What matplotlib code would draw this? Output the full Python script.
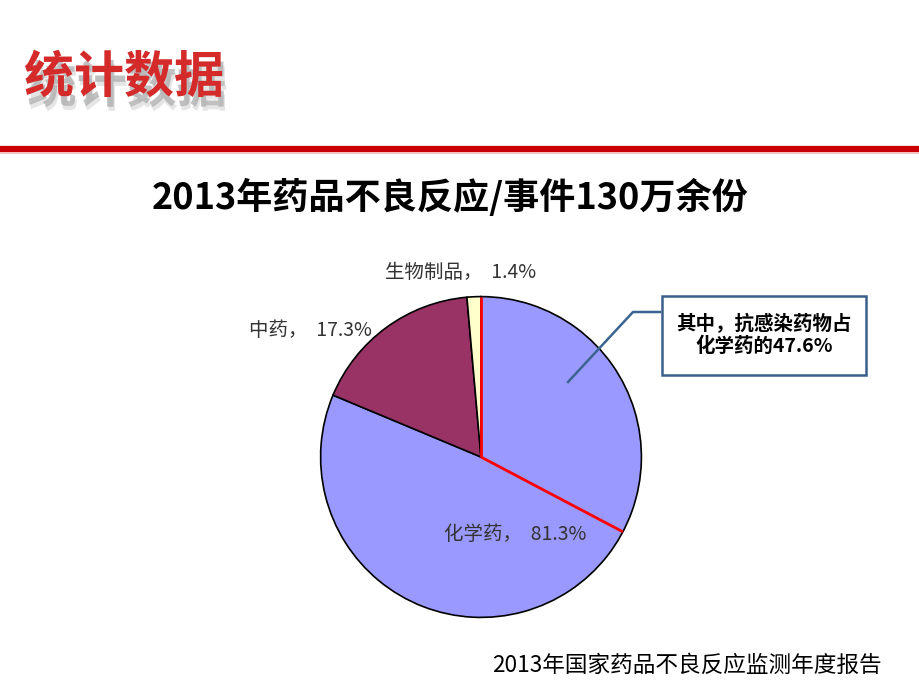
import matplotlib.pyplot as plt
import matplotlib.patheffects as pe
import numpy as np

plt.rcParams['font.family'] = ['Noto Sans CJK SC', 'DejaVu Sans']

# data
categories = ['化学药', '中药', '生物制品']
shares = [81.3, 17.3, 1.4]
colors = ['#9999FF', '#993366', '#FFFFCC']
anti_infective_note = '其中，抗感染药物占\n化学药的47.6%'
red_line_angle = -27.8  # red mark inside the chemical wedge

fig = plt.figure(figsize=(9.2, 6.9), dpi=100)

# background axes in pixel coordinates for slide decorations
bg = fig.add_axes([0, 0, 1, 1])
bg.set_xlim(0, 920)
bg.set_ylim(690, 0)
bg.axis('off')

# header with shadow
shadow = [pe.SimplePatchShadow(offset=(2, -7), shadow_rgbFace='#777777', alpha=0.45),
          pe.SimplePatchShadow(offset=(3, -10), shadow_rgbFace='#aaaaaa', alpha=0.3),
          pe.Normal()]
bg.text(24, 78, '统计数据', fontsize=36, fontweight='bold', color='#D42A2A',
        va='center', ha='left', path_effects=shadow)

# red rule under header
bg.plot([0, 920], [149, 149], color='#CC0000', lw=4.5, solid_capstyle='butt')
bg.plot([0, 920], [152.5, 152.5], color='#F2B8B8', lw=1.2)

# title
bg.text(450, 198, '2013年药品不良反应/事件130万余份', fontsize=26, fontweight='bold',
        ha='center', va='center', color='black')

# pie
cx, cy, r = 481, 457, 162
ax = fig.add_axes([(cx - r) / 920, (690 - cy - r) / 690, 2 * r / 920, 2 * r / 690])
wedges, _ = ax.pie(shares, colors=colors, startangle=90, counterclock=False,
                   wedgeprops=dict(edgecolor='black', linewidth=1.2))
ax.set_xlim(-1.01, 1.01)
ax.set_ylim(-1.01, 1.01)

for ang in [90, red_line_angle]:
    t = np.deg2rad(ang)
    ax.plot([0, np.cos(t)], [0, np.sin(t)], color='red', lw=2, solid_capstyle='butt')

# top overlay for labels and callout
top = fig.add_axes([0, 0, 1, 1])
top.set_xlim(0, 920)
top.set_ylim(690, 0)
top.axis('off')
top.patch.set_alpha(0)

# data labels
label_pos = [(515, 535), (310, 330), (461, 273)]
for (x, y), name, val in zip(label_pos, categories, shares):
    top.text(x, y, f'{name}，  {val}%', fontsize=14, color='#333333',
             ha='center', va='center')

# callout
top.plot([568, 633, 660], [382, 312, 312], color='#3C6490', lw=1.8)
top.add_patch(plt.Rectangle((662, 296), 204, 79, facecolor='white',
                            edgecolor='#3C5F8C', lw=1.8))
top.text(764, 335, anti_infective_note, fontsize=14, fontweight='bold',
         ha='center', va='center', linespacing=1.15)

# source
top.text(882, 665, '2013年国家药品不良反应监测年度报告', fontsize=16.3,
         ha='right', va='center', color='black')

fig.savefig('out.png', dpi=100)
